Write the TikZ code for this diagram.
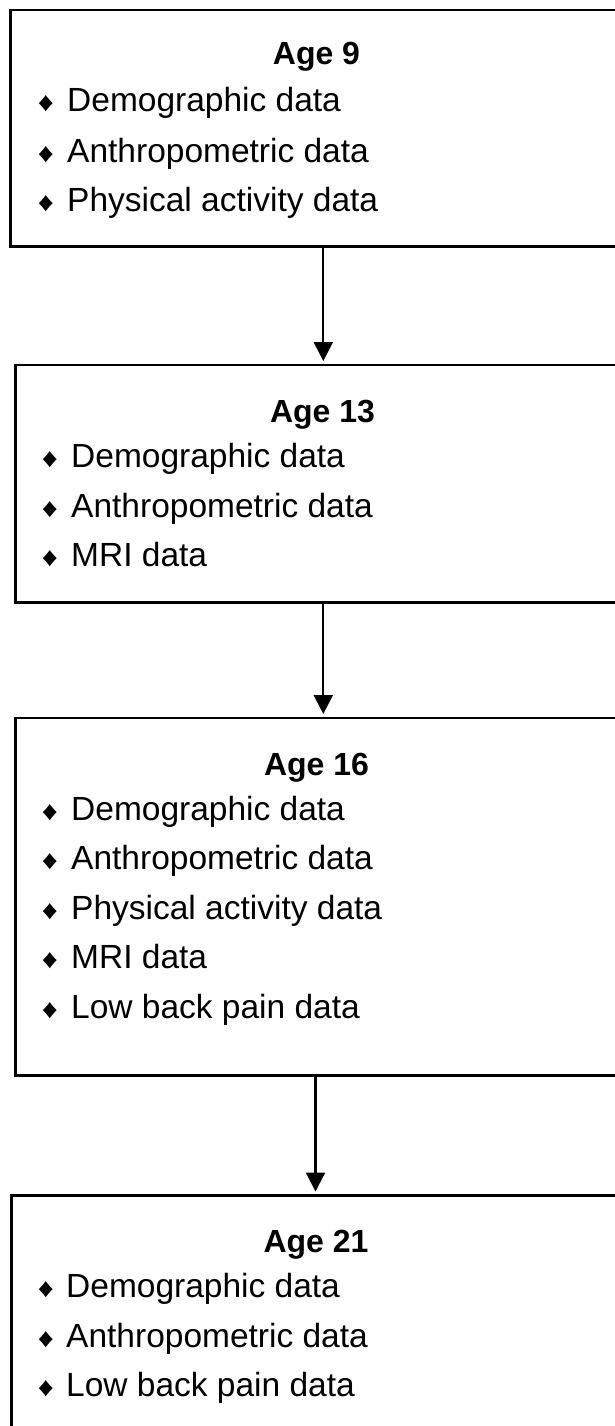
\documentclass[tikz,border=0pt]{standalone}
\usepackage{fontspec}
\setmainfont{Liberation Sans}
\usetikzlibrary{arrows.meta}
\begin{document}
\begin{tikzpicture}[x=1pt,y=-1pt,
  box/.style={draw, line width=2.5pt, anchor=north west, inner sep=0pt},
  title/.style={font=\fontsize{32}{38}\selectfont\bfseries, anchor=base, inner sep=0pt},
  item/.style={font=\fontsize{33.5}{40}\selectfont, anchor=base west, inner sep=0pt},
  bul/.style={anchor=base, inner sep=0pt},
  arr/.style={line width=2.2pt, -{Triangle[length=19pt,width=19pt]}, shorten >=2.5pt}]
\useasboundingbox (0,0) rectangle (615,1426);
\fill[white] (0,0) rectangle (615,1426);
\newcommand\bulletglyph{\resizebox{16pt}{16pt}{♦}}
% boxes
\node[box, minimum width=611pt, minimum height=236pt] (b1) at (9,9) {};
\node[box, minimum width=606pt, minimum height=237.5pt] (b2) at (14,363.5) {};
\node[box, minimum width=606pt, minimum height=357.5pt] (b3) at (14,716.5) {};
\node[box, minimum width=610pt, minimum height=246pt] (b4) at (10,1194) {};
% box 1
\node[title] (t1) at (316.5,65) {Age 9};
\node[bul] (p11) at (46,112) {\bulletglyph};
\node[item] (i11) at (67,112) {Demographic data};
\node[bul] (p12) at (46,162) {\bulletglyph};
\node[item] (i12) at (67,162) {Anthropometric data};
\node[bul] (p13) at (46,211.5) {\bulletglyph};
\node[item] (i13) at (67,211.5) {Physical activity data};
% box 2
\node[title] (t2) at (322.5,422) {Age 13};
\node[bul] (p21) at (50,467) {\bulletglyph};
\node[item] (i21) at (71,467) {Demographic data};
\node[bul] (p22) at (50,517) {\bulletglyph};
\node[item] (i22) at (71,517) {Anthropometric data};
\node[bul] (p23) at (50,566) {\bulletglyph};
\node[item] (i23) at (71,566) {MRI data};
% box 3
\node[title] (t3) at (316.5,775) {Age 16};
\node[bul] (p31) at (50,820) {\bulletglyph};
\node[item] (i31) at (71,820) {Demographic data};
\node[bul] (p32) at (50,869) {\bulletglyph};
\node[item] (i32) at (71,869) {Anthropometric data};
\node[bul] (p33) at (50,919) {\bulletglyph};
\node[item] (i33) at (71,919) {Physical activity data};
\node[bul] (p34) at (50,968) {\bulletglyph};
\node[item] (i34) at (71,968) {MRI data};
\node[bul] (p35) at (50,1018) {\bulletglyph};
\node[item] (i35) at (71,1018) {Low back pain data};
% box 4
\node[title] (t4) at (316,1252) {Age 21};
\node[bul] (p41) at (46,1297) {\bulletglyph};
\node[item] (i41) at (66,1297) {Demographic data};
\node[bul] (p42) at (46,1347) {\bulletglyph};
\node[item] (i42) at (66,1347) {Anthropometric data};
\node[bul] (p43) at (46,1396) {\bulletglyph};
\node[item] (i43) at (66,1396) {Low back pain data};
% arrows
\coordinate (x1) at (323.3,0);
\coordinate (x2) at (323.3,0);
\coordinate (x3) at (315.5,0);
\draw[arr] (b1.south -| x1) -- (b2.north -| x1);
\draw[arr] (b2.south -| x2) -- (b3.north -| x2);
\draw[arr] (b3.south -| x3) -- (b4.north -| x3);
\end{tikzpicture}
\end{document}
